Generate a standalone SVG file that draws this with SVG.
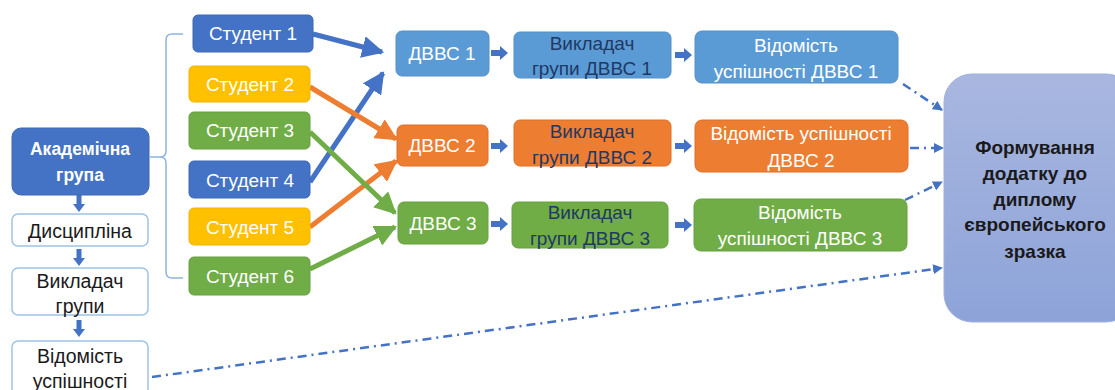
<svg xmlns="http://www.w3.org/2000/svg" width="1115" height="390" viewBox="0 0 1115 390">
<style>
text{font-family:"Liberation Sans",Arial,sans-serif;text-anchor:middle;dominant-baseline:central}
.w{fill:#fff;font-size:19px}
.k{fill:#1a1a1a;font-size:19.5px}
.n{fill:#1F3864;font-size:19px}
.b{font-weight:bold}
.f{font-size:19px}
.a{font-size:17.5px}
.db{fill:#4472C4;stroke:#3E68B5;stroke-width:1}
.lb{fill:#5B9BD5;stroke:#5590C8;stroke-width:1}
.or{fill:#ED7D31;stroke:#DC7029;stroke-width:1}
.ye{fill:#FFC000;stroke:#F0B400;stroke-width:1}
.gr{fill:#70AD47;stroke:#67A040;stroke-width:1}
.wh{fill:#fff;stroke:#9DC3E6;stroke-width:1.5}
.sa{stroke-width:5;fill:none}
.dd{stroke:#4472C4;stroke-width:2.5;fill:none;stroke-dasharray:9 5 2 5;marker-end:url(#ad)}
</style>
<defs>
<linearGradient id="gf" x1="0" y1="0" x2="0" y2="1">
<stop offset="0" stop-color="#A9B7E0"/>
<stop offset="1" stop-color="#8DA3D8"/>
</linearGradient>
<marker id="ab" viewBox="0 0 10 10" refX="9" refY="5" markerWidth="4.4" markerHeight="4.4" orient="auto"><path d="M0,0L10,5L0,10z" fill="#4472C4"/></marker>
<marker id="ao" viewBox="0 0 10 10" refX="9" refY="5" markerWidth="4.4" markerHeight="4.4" orient="auto"><path d="M0,0L10,5L0,10z" fill="#ED7D31"/></marker>
<marker id="ag" viewBox="0 0 10 10" refX="9" refY="5" markerWidth="4.4" markerHeight="4.4" orient="auto"><path d="M0,0L10,5L0,10z" fill="#70AD47"/></marker>
<marker id="ad" viewBox="0 0 10 10" refX="9" refY="5" markerWidth="4" markerHeight="4" orient="auto"><path d="M0,0L10,5L0,10z" fill="#4472C4"/></marker>
<path id="ra" d="M0,-3H9V-7L17,0L9,7V3H0z" fill="#4472C4"/>
<path id="da" d="M-2.5,0H2.5V9H6L0,17L-6,9H-2.5z" fill="#4472C4"/>
</defs>

<g id="connectors">
<path d="M183,34H172Q166,34 166,40V151Q166,157 160,157H150M160,157Q166,157 166,163V272Q166,278 172,278H183" stroke="#8FB4E0" stroke-width="1.5" fill="none"/>
<line class="sa" x1="313" y1="34" x2="382" y2="52" stroke="#4472C4" marker-end="url(#ab)"/>
<line class="sa" x1="310" y1="182" x2="383" y2="73" stroke="#4472C4" marker-end="url(#ab)"/>
<line class="sa" x1="310" y1="87" x2="396" y2="139" stroke="#ED7D31" marker-end="url(#ao)"/>
<line class="sa" x1="310" y1="227" x2="396" y2="161" stroke="#ED7D31" marker-end="url(#ao)"/>
<line class="sa" x1="310" y1="132" x2="395" y2="213" stroke="#70AD47" marker-end="url(#ag)"/>
<line class="sa" x1="310" y1="269" x2="395" y2="227" stroke="#70AD47" marker-end="url(#ag)"/>
<use href="#ra" x="491" y="53"/>
<use href="#ra" x="675" y="55"/>
<use href="#ra" x="491" y="146"/>
<use href="#ra" x="675" y="146"/>
<use href="#ra" x="491" y="224"/>
<use href="#ra" x="675" y="225"/>
<use href="#da" x="79" y="195"/>
<use href="#da" x="79" y="249"/>
<use href="#da" x="79" y="320"/>
<path class="dd" d="M903,84L942,110"/>
<path class="dd" d="M910,148L943,148"/>
<path class="dd" d="M905,200L942,182"/>
<path class="dd" d="M152,377L942,268"/>
</g>

<g id="akad"><rect class="db" x="12" y="128" width="137" height="67" rx="9"/><text class="w b a" x="80" y="149">Академічна</text><text class="w b a" x="80" y="175">група</text></g>
<g id="dysc"><rect class="wh" x="12" y="214" width="136" height="32" rx="6"/><text class="k" x="80" y="231">Дисципліна</text></g>
<g id="vykl"><rect class="wh" x="12" y="268" width="136" height="47" rx="6"/><text class="k" x="80" y="281">Викладач</text><text class="k" x="80" y="306">групи</text></g>
<g id="vidom"><rect class="wh" x="12" y="341" width="136" height="60" rx="6"/><text class="k" x="80" y="356">Відомість</text><text class="k" x="80" y="381">успішності</text></g>

<g id="s1"><rect class="db" x="193" y="15" width="120" height="37" rx="5"/><text class="w" x="253" y="33">Студент 1</text></g>
<g id="s2"><rect class="ye" x="189" y="66" width="121" height="36" rx="5"/><text class="w" x="250" y="84">Студент 2</text></g>
<g id="s3"><rect class="gr" x="189" y="112" width="121" height="37" rx="5"/><text class="w" x="250" y="130">Студент 3</text></g>
<g id="s4"><rect class="db" x="189" y="161" width="121" height="37" rx="5"/><text class="w" x="250" y="180">Студент 4</text></g>
<g id="s5"><rect class="ye" x="189" y="208" width="121" height="37" rx="5"/><text class="w" x="250" y="227">Студент 5</text></g>
<g id="s6"><rect class="gr" x="189" y="257" width="121" height="38" rx="5"/><text class="w" x="250" y="276">Студент 6</text></g>

<g id="d1"><rect class="lb" x="396" y="31" width="93" height="45" rx="6"/><text class="w" x="442" y="53">ДВВС 1</text></g>
<g id="d2"><rect class="or" x="397" y="125" width="91" height="41" rx="6"/><text class="w" x="442" y="145">ДВВС 2</text></g>
<g id="d3"><rect class="gr" x="398" y="202" width="90" height="42" rx="6"/><text class="w" x="443" y="223">ДВВС 3</text></g>

<g id="v1"><rect class="lb" x="514" y="32" width="157" height="46" rx="6"/><text class="n" x="592" y="43">Викладач</text><text class="n" x="592" y="68">групи ДВВС 1</text></g>
<g id="v2"><rect class="or" x="514" y="120" width="157" height="46" rx="6"/><text class="n" x="592" y="131">Викладач</text><text class="n" x="592" y="157">групи ДВВС 2</text></g>
<g id="v3"><rect class="gr" x="512" y="202" width="156" height="46" rx="6"/><text class="n" x="590" y="212">Викладач</text><text class="n" x="590" y="238">групи ДВВС 3</text></g>

<g id="r1"><rect class="lb" x="695" y="31" width="203" height="52" rx="7"/><text class="w" x="796" y="45">Відомість</text><text class="w" x="796" y="71">успішності ДВВС 1</text></g>
<g id="r2"><rect class="or" x="695" y="120" width="213" height="52" rx="7"/><text class="w" x="801" y="133">Відомість успішності</text><text class="w" x="801" y="160">ДВВС 2</text></g>
<g id="r3"><rect class="gr" x="694" y="199" width="213" height="52" rx="7"/><text class="w" x="800" y="212">Відомість</text><text class="w" x="800" y="238">успішності ДВВС 3</text></g>

<g id="form"><rect x="944" y="74" width="190" height="248" rx="28" fill="url(#gf)" stroke="#9EB0DE" stroke-width="1"/>
<text class="k b f" x="1035" y="147">Формування</text>
<text class="k b f" x="1035" y="173">додатку до</text>
<text class="k b f" x="1035" y="199">диплому</text>
<text class="k b f" x="1035" y="224">європейського</text>
<text class="k b f" x="1035" y="251">зразка</text></g>
</svg>
